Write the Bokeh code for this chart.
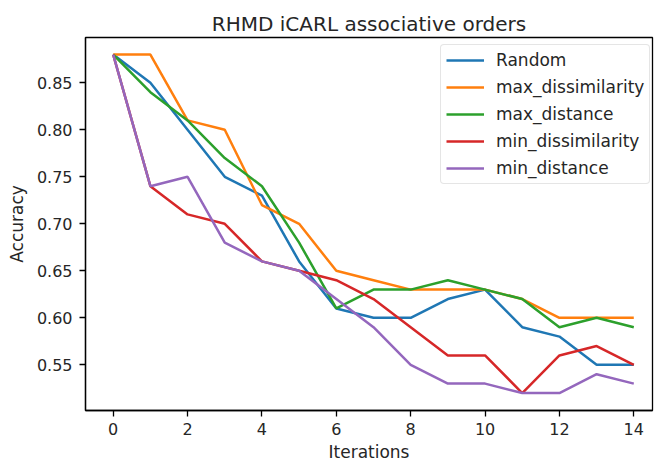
from bokeh.plotting import figure
from bokeh.embed import file_html
from bokeh.resources import INLINE
from bokeh.models import Range1d, FixedTicker, Legend, LegendItem, PrintfTickFormatter

iterations = list(range(15))
random_acc = [0.88, 0.85, 0.80, 0.75, 0.73, 0.66, 0.61, 0.60, 0.60, 0.62, 0.63, 0.59, 0.58, 0.55, 0.55]
max_dissimilarity = [0.88, 0.88, 0.81, 0.80, 0.72, 0.70, 0.65, 0.64, 0.63, 0.63, 0.63, 0.62, 0.60, 0.60, 0.60]
max_distance = [0.88, 0.84, 0.81, 0.77, 0.74, 0.68, 0.61, 0.63, 0.63, 0.64, 0.63, 0.62, 0.59, 0.60, 0.59]
min_dissimilarity = [0.88, 0.74, 0.71, 0.70, 0.66, 0.65, 0.64, 0.62, 0.59, 0.56, 0.56, 0.52, 0.56, 0.57, 0.55]
min_distance = [0.88, 0.74, 0.75, 0.68, 0.66, 0.65, 0.62, 0.59, 0.55, 0.53, 0.53, 0.52, 0.52, 0.54, 0.53]

series_names = ["Random", "max_dissimilarity", "max_distance", "min_dissimilarity", "min_distance"]
series_values = [random_acc, max_dissimilarity, max_distance, min_dissimilarity, min_distance]
colors = ["#1f77b4", "#ff7f0e", "#2ca02c", "#d62728", "#9467bd"]
x_ticks = [0, 2, 4, 6, 8, 10, 12, 14]
y_ticks = [0.55, 0.60, 0.65, 0.70, 0.75, 0.80, 0.85]

FONT = "DejaVu Sans"
TXT = "#262626"

p = figure(width=655, height=466, output_backend="svg", toolbar_location=None,
           x_range=Range1d(-0.745, 14.503), y_range=Range1d(0.5014, 0.8982),
           min_border_left=85, min_border_right=3, min_border_top=37, min_border_bottom=56)

p.title.text = "RHMD iCARL associative orders"
p.title.align = "center"
p.title.text_font = FONT
p.title.text_font_size = "20px"
p.title.text_font_style = "normal"
p.title.text_color = TXT
p.title.offset = 0
p.title.standoff = 4

p.xgrid.visible = False
p.ygrid.visible = False
p.outline_line_color = "black"
p.outline_line_width = 1.3

items = []
for name, vals, c in zip(series_names, series_values, colors):
    r = p.line(iterations, vals, line_color=c, line_width=2.5)
    items.append(LegendItem(label=name, renderers=[r]))

legend = Legend(items=items)
legend.label_text_font = FONT
legend.label_text_font_size = "17px"
legend.label_text_color = TXT
legend.glyph_width = 38
legend.glyph_height = 20
legend.label_height = 20
legend.spacing = 7
legend.padding = 5
legend.margin = 0
legend.location = (355, 226)
legend.border_line_color = "#cccccc"
legend.border_line_width = 1.3
legend.border_radius = 4
legend.label_standoff = 12
p.add_layout(legend)

for ax, ticks in ((p.xaxis[0], x_ticks), (p.yaxis[0], y_ticks)):
    ax.ticker = FixedTicker(ticks=ticks)
    ax.minor_tick_line_color = None
    ax.major_tick_out = 6
    ax.major_tick_in = 0
    ax.axis_line_color = "black"
    ax.axis_line_width = 1.3
    ax.major_tick_line_color = "black"
    ax.major_tick_line_width = 1.3
    ax.major_label_text_font = FONT
    ax.major_label_text_font_size = "16px"
    ax.major_label_text_color = TXT
    ax.axis_label_text_font = FONT
    ax.axis_label_text_font_size = "17px"
    ax.axis_label_text_font_style = "normal"
    ax.axis_label_text_color = TXT

p.xaxis.axis_label = "Iterations"
p.yaxis.axis_label = "Accuracy"
p.yaxis.formatter = PrintfTickFormatter(format="%.2f")
p.xaxis.major_label_standoff = 6
p.yaxis.major_label_standoff = 7
p.xaxis.axis_label_standoff = 4
p.yaxis.axis_label_standoff = 7

open("out.html", "w").write(file_html(p, INLINE))
